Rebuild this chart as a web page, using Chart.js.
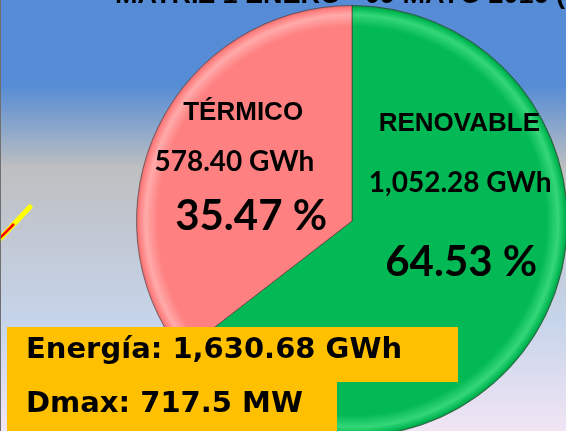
<!DOCTYPE html>
<html>
<head>
<meta charset="utf-8">
<script src="https://cdn.jsdelivr.net/npm/chart.js@4.4.1/dist/chart.umd.min.js"></script>
<style>
  html, body { margin: 0; padding: 0; overflow: hidden; }
  #stage {
    position: relative; width: 566px; height: 431px; overflow: hidden;
    background: linear-gradient(to bottom, #558CD5 0px, #558CD5 85px, #BEBFC1 168px, #C6D4EA 320px, #F1E5F4 431px);
  }
  #edge { position: absolute; left: 0; top: 0; width: 1px; height: 431px; background: #6f6f6f; z-index: 5; }
  #wrap { position: absolute; left: 0; top: 0; width: 600px; height: 480px; }
  #title {
    position: absolute; left: 115px; top: -21px; white-space: nowrap;
    font: bold 27px "Liberation Sans", Arial, sans-serif; color: #000; z-index: 3;
  }
  .box { position: absolute; background: #FFC000; z-index: 4; }
  .boxtxt {
    position: absolute; left: 26px; white-space: nowrap; z-index: 6;
    font: bold 29px "DejaVu Sans", Verdana, sans-serif; color: #000;
  }
  #deco { position: absolute; left: 0; top: 0; z-index: 2; }
</style>
</head>
<body>
<div id="stage">
  <div id="edge"></div>
  <svg id="deco" width="60" height="260">
    <line x1="-4" y1="243" x2="30" y2="207" stroke="#FFFF00" stroke-width="5" stroke-linecap="round"/>
    <line x1="-4" y1="242" x2="14" y2="224" stroke="#FF0000" stroke-width="2.5"/>
  </svg>
  <div id="title"></div>
  <div id="wrap"><canvas id="c" width="600" height="480"></canvas></div>
  <div class="box" style="left:7px;top:327px;width:451px;height:55px;"></div>
  <div class="box" style="left:7px;top:382px;width:330px;height:49px;"></div>
  <div class="boxtxt" id="l1" style="top:331px;"></div>
  <div class="boxtxt" id="l2" style="top:385px;"></div>
</div>
<script>
// ---- data ----
const titleText = "MATRIZ 1 ENERO - 09 MAYO 2016 (";
const categories = ["RENOVABLE", "TÉRMICO"];
const energyGWh = [1052.28, 578.40];
const sharePct = [64.53, 35.47];
const totalEnergyGWh = 1630.68;
const maxDemandMW = 717.5;

const fmt2 = v => v.toLocaleString('en-US', {minimumFractionDigits: 2, maximumFractionDigits: 2});

document.getElementById('title').textContent = titleText;
document.getElementById('l1').textContent = "Energía: " + fmt2(totalEnergyGWh) + " GWh";
document.getElementById('l2').textContent = "Dmax: " + maxDemandMW.toFixed(1) + " MW";

// styles
const palette = [
  {base: '#03B955', light: '#35D778', dark: '#068C3E'},
  {base: '#FF8080', light: '#FFAAAA', dark: '#D86A6A'}
];
// label offsets as fraction of radius (dx, dy) for name / energy / percent
const labelPos = [
  {name: [0.498, -0.449], energy: [0.502, -0.176], pct: [0.507, 0.194]},
  {name: [-0.505, -0.502], energy: [-0.546, -0.275], pct: [-0.468, -0.02]}
];

function fillFor(ctx) {
  const chart = ctx.chart;
  const ca = chart.chartArea;
  const p = palette[ctx.dataIndex];
  if (!ca) return p.base;
  const cx = (ca.left + ca.right) / 2, cy = (ca.top + ca.bottom) / 2;
  const r = Math.min(ca.right - ca.left, ca.bottom - ca.top) / 2;
  const g = chart.ctx.createRadialGradient(cx, cy, 0, cx, cy, r);
  g.addColorStop(0, p.base);
  g.addColorStop(0.90, p.base);
  g.addColorStop(0.955, p.light);
  g.addColorStop(0.985, p.base);
  g.addColorStop(1, p.dark);
  return g;
}

const labelPlugin = {
  id: 'sliceLabels',
  afterDatasetsDraw(chart) {
    const c = chart.ctx;
    const meta = chart.getDatasetMeta(0);
    meta.data.forEach((arc, i) => {
      const cx = arc.x, cy = arc.y, r = arc.outerRadius;
      const lp = labelPos[i];
      c.save();
      c.fillStyle = '#000';
      c.textAlign = 'center';
      c.textBaseline = 'middle';
      c.font = 'bold 26px "Liberation Sans", Arial, sans-serif';
      c.fillText(categories[i], cx + lp.name[0] * r, cy + lp.name[1] * r);
      c.font = 'bold 28px Lato, "Open Sans", sans-serif';
      c.fillText(fmt2(energyGWh[i]) + " GWh", cx + lp.energy[0] * r, cy + lp.energy[1] * r);
      c.font = 'bold 42px Lato, "Open Sans", sans-serif';
      c.fillText(sharePct[i].toFixed(2) + " %", cx + lp.pct[0] * r, cy + lp.pct[1] * r);
      c.restore();
    });
  }
};

new Chart(document.getElementById('c'), {
  type: 'pie',
  data: {
    labels: categories,
    datasets: [{
      data: energyGWh,
      backgroundColor: fillFor,
      borderColor: 'rgba(60,40,40,0.55)',
      borderWidth: 1
    }]
  },
  options: {
    responsive: false,
    animation: false,
    devicePixelRatio: 1,
    layout: { padding: { left: 136, top: 5, right: 32, bottom: 43 } },
    plugins: { legend: { display: false }, tooltip: { enabled: false } }
  },
  plugins: [labelPlugin]
});
</script>
</body>
</html>
